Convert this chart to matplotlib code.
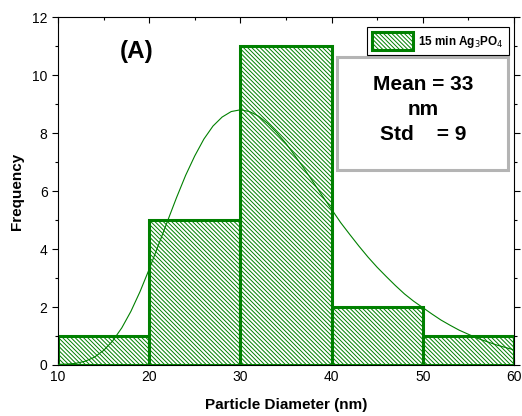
import matplotlib.pyplot as plt
from matplotlib.patches import Rectangle

plt.rcParams['font.family'] = ['Liberation Sans', 'DejaVu Sans']
plt.rcParams['hatch.linewidth'] = 0.7

# histogram of particle diameters
bin_left = [10, 20, 30, 40, 50]
counts = [1, 5, 11, 2, 1]
bin_width = 10

# log-normal fit curve, read every 1 nm
fit_x = list(range(10, 61))
fit_y = [0.02, 0.03, 0.06, 0.13, 0.27, 0.50, 0.83, 1.28, 1.85, 2.53, 3.30,
         4.12, 4.95, 5.77, 6.54, 7.21, 7.79, 8.24, 8.55, 8.74, 8.80, 8.74,
         8.58, 8.33, 8.01, 7.64, 7.21, 6.77, 6.30, 5.83, 5.37, 4.91, 4.50,
         4.10, 3.72, 3.37, 3.05, 2.74, 2.45, 2.20, 1.98, 1.76, 1.55, 1.37,
         1.20, 1.06, 0.92, 0.81, 0.70, 0.61, 0.52]

green = '#008000'

fig = plt.figure(figsize=(5.22, 4.16), dpi=100)
ax = fig.add_axes([0.111, 0.1226, 0.8736, 0.8365])

ax.bar(bin_left, counts, width=bin_width, align='edge', color='white',
       edgecolor=green, hatch='\\\\\\\\\\\\\\\\', linewidth=2.2,
       label='15 min Ag$_3$PO$_4$', zorder=2)
ax.plot(fit_x, fit_y, color=green, linewidth=0.8, zorder=3)

ax.set_xlim(10, 60)
ax.set_ylim(0, 12)
ax.set_xticks([10, 20, 30, 40, 50, 60])
ax.set_xticks([15, 25, 35, 45, 55], minor=True)
ax.set_yticks([0, 2, 4, 6, 8, 10, 12])
ax.set_yticks([1, 3, 5, 7, 9, 11], minor=True)
ax.tick_params(axis='y', which='both', direction='out', right=True,
               labelsize=10)
ax.tick_params(axis='x', which='both', direction='in', top=True,
               labelsize=10)
ax.tick_params(which='major', length=4, width=0.8)
ax.tick_params(which='minor', length=2.5, width=0.8)

ax.set_xlabel('Particle Diameter (nm)', fontsize=11, fontweight='bold',
              labelpad=10)
ax.set_ylabel('Frequency', fontsize=11, fontweight='bold', labelpad=6)

ax.text(0.173, 0.90, '(A)', transform=ax.transAxes, fontsize=17.5,
        fontweight='bold', ha='center', va='center')

leg = ax.legend(loc='upper right', bbox_to_anchor=(0.989, 0.971),
                prop={'weight': 'bold', 'size': 8.5},
                fancybox=False, edgecolor='black', framealpha=1,
                handlelength=3.5, handleheight=1.9, borderpad=0.45,
                handletextpad=0.4, borderaxespad=0)
leg.get_frame().set_linewidth(0.8)

# summary statistics box
ax.add_patch(Rectangle((0.612, 0.560), 0.375, 0.325, transform=ax.transAxes,
                       facecolor='white', edgecolor='#b4b4b4', linewidth=2.2,
                       zorder=5))
ax.text(0.80, 0.833, 'Mean = 33\nnm\nStd    = 9', transform=ax.transAxes,
        fontsize=15, fontweight='bold', ha='center', va='top',
        linespacing=1.4, zorder=6)

fig.savefig('out.png', dpi=100)
